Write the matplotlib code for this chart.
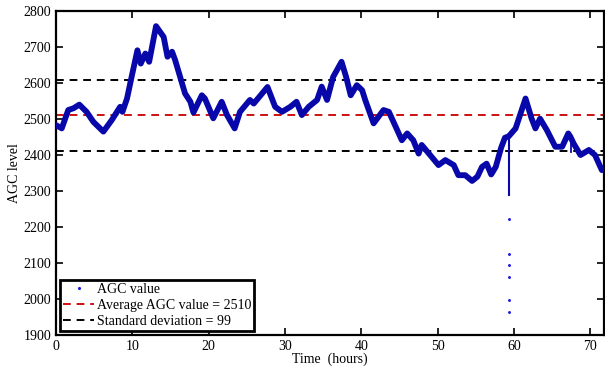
import matplotlib
matplotlib.use("Agg")
import matplotlib.pyplot as plt
from matplotlib.lines import Line2D

plt.rcParams['font.family'] = ['Liberation Serif', 'DejaVu Serif']

hours = [0.0, 0.75, 1.6, 2.3, 3.05, 4.0, 4.9, 6.2, 7.3, 8.4, 8.7, 9.3, 9.9, 10.66, 11.1,
         11.7, 12.2, 13.1, 14.1, 14.6, 15.2, 15.6, 16.9, 17.6, 18.0, 19.1, 19.5, 20.6,
         21.7, 22.4, 23.4, 24.1, 25.4, 25.9, 27.0, 27.7, 28.7, 29.6, 30.7, 31.5, 32.2,
         33.1, 34.2, 34.8, 35.5, 36.3, 37.4, 38.0, 38.6, 39.4, 40.1, 40.5, 41.6, 42.9,
         43.6, 45.3, 46.0, 46.8, 47.5, 47.9, 49.0, 50.1, 51.0, 52.1, 52.7, 53.6, 54.5,
         55.2, 55.8, 56.4, 57.0, 57.6, 58.3, 58.8, 59.3, 60.2, 61.5, 62.3,
         62.8, 63.4, 64.3, 65.4, 66.3, 67.1, 67.4, 67.8, 68.7, 69.8, 70.6,
         71.5]
agc = [2483, 2474, 2525, 2530, 2540, 2520, 2492, 2465, 2497, 2534, 2520, 2557, 2617, 2691,
       2654, 2682, 2659, 2758, 2728, 2673, 2687, 2664, 2571, 2548, 2518, 2566, 2557, 2502,
       2548, 2511, 2474, 2520, 2553, 2543, 2571, 2589, 2534, 2520, 2534, 2548, 2511, 2534,
       2553, 2590, 2553, 2617, 2659, 2617, 2566, 2594, 2580, 2553, 2488, 2525, 2520, 2441,
       2460, 2441, 2404, 2428, 2400, 2372, 2386, 2372, 2344, 2344, 2328, 2340, 2367, 2376,
       2346, 2367, 2420, 2448, 2452, 2474, 2557, 2501, 2474, 2501, 2469, 2423,
       2423, 2460, 2450, 2432, 2400, 2414, 2400, 2358]

# short downward glitches drawn as thin strokes
spike1_hours = [59.3, 59.3]
spike1_agc = [2452, 2289]
spike2_hours = [67.4, 67.4]
spike2_agc = [2455, 2409]

outlier_hours = [59.3, 59.3, 59.3, 59.3, 59.3, 59.3]
outlier_agc = [2222, 2125, 2094, 2060, 1997, 1963]

mean_val = 2510
std_val = 99

xticks = [0, 10, 20, 30, 40, 50, 60, 70]
yticks = [1900, 2000, 2100, 2200, 2300, 2400, 2500, 2600, 2700, 2800]

blue = '#0808aa'

fig = plt.figure(figsize=(6.05, 3.69), dpi=100)
ax = fig.add_axes([0.0926, 0.0921, 0.906, 0.878])

ax.plot(hours, agc, '-', color=blue, lw=4.2, solid_joinstyle='round',
        solid_capstyle='round', zorder=3)
ax.plot(spike1_hours, spike1_agc, '-', color=blue, lw=1.5, zorder=3)
ax.plot(spike2_hours, spike2_agc, '-', color=blue, lw=1.3, zorder=3)
ax.plot(outlier_hours, outlier_agc, '.', color='#1a1ae0', markersize=2.2, zorder=3)

ax.axhline(mean_val, color='#cc1111', ls=(0, (4, 3)), lw=1.4, zorder=2)
ax.axhline(mean_val + std_val, color='black', ls=(0, (4, 3)), lw=1.4, zorder=2)
ax.axhline(mean_val - std_val, color='black', ls=(0, (4, 3)), lw=1.4, zorder=2)

ax.set_xlim(0, 71.8)
ax.set_ylim(1900, 2800)
ax.set_xticks(xticks)
ax.set_yticks(yticks)
ax.tick_params(direction='in', top=True, right=True, labelsize=10, length=5, width=1.2)
for s in ax.spines.values():
    s.set_linewidth(1.6)

ax.set_xlabel('Time  (hours)', fontsize=10, labelpad=0)
ax.set_ylabel('AGC level', fontsize=10, labelpad=2)

handles = [
    Line2D([], [], ls='none', marker='.', color='#1a1ae0', markersize=2.5),
    Line2D([], [], color='#cc1111', ls=(0, (4, 3)), lw=1.4),
    Line2D([], [], color='black', ls=(0, (4, 3)), lw=1.4),
]
labels = ['AGC value', 'Average AGC value = 2510', 'Standard deviation = 99']
leg = ax.legend(handles, labels, loc='lower left', fontsize=10, fancybox=False,
                framealpha=1, edgecolor='black', borderpad=0.22, handlelength=2.2,
                handletextpad=0.2, labelspacing=0.22, borderaxespad=0.3)
leg.get_frame().set_linewidth(2)

fig.savefig('out.png', dpi=100)
